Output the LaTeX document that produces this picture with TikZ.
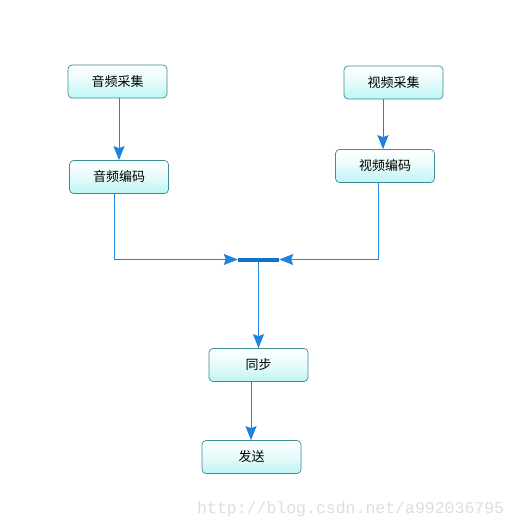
\documentclass[tikz,border=0pt]{standalone}
\usepackage{fontspec}
\newfontfamily\cjk{Noto Sans CJK SC}
\newfontfamily\wmfont{Liberation Mono}
\usetikzlibrary{arrows.meta}
\definecolor{lineblue}{RGB}{30,130,225}
\definecolor{barblue}{RGB}{20,115,200}
\definecolor{boxedge}{RGB}{60,140,150}
\definecolor{boxfill}{RGB}{190,245,245}
\begin{document}
\begin{tikzpicture}[x=1pt,y=-1pt,
  box/.style={draw=boxedge,line width=0.7pt,rounded corners=4pt,top color=white,bottom color=boxfill,middle color=boxfill!40,
    minimum width=99pt,minimum height=33pt,inner sep=0pt,font=\cjk\fontsize{13}{15}\selectfont},
  conn/.style={draw=lineblue,line width=1pt,-{Stealth[length=14pt,width=11pt,inset=2pt]}},
  plain/.style={draw=lineblue,line width=1pt}]
\useasboundingbox (0,0) rectangle (519,527);
\fill[white] (0,0) rectangle (519,527);
\node[box] (ac) at (117.5,81.5) {音频采集};
\node[box] (ae) at (119,177) {音频编码};
\node[box] (vc) at (393.5,82.5) {视频采集};
\node[box] (ve) at (385,166) {视频编码};
\node[box] (sy) at (258.5,365) {同步};
\node[box] (se) at (251.5,457) {发送};
\node[fill=barblue,minimum width=41pt,minimum height=4pt,inner sep=0pt] (bar) at (258.5,259.5) {};
\coordinate (lc) at (114,259.5);
\coordinate (rc) at (378,259.5);
\draw[conn] (ac.south -| 119,0) -- (ae.north -| 119,0);
\draw[conn] (vc.south -| 383,0) -- (ve.north -| 383,0);
\draw[plain] (ae.south -| lc) -- (lc);
\draw[conn] (lc) -- (bar.west);
\draw[plain] (ve.south -| rc) -- (rc);
\draw[conn] (rc) -- (bar.east);
\draw[conn] (bar.south -| 258.5,0) -- (sy.north -| 258.5,0);
\draw[conn] (sy.south -| 251,0) -- (se.north -| 251,0);
\node[font=\wmfont\fontsize{16.5}{18}\selectfont,text=black!13,anchor=west,inner sep=0pt] (wm) at (197,509) {http://blog.csdn.net/a992036795};
\end{tikzpicture}
\end{document}
